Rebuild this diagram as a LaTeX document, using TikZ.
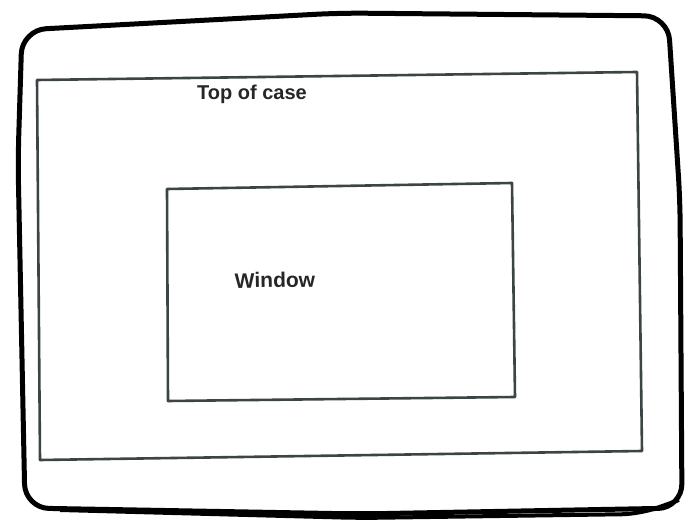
\documentclass[tikz,border=0pt]{standalone}
\usepackage{fontspec}
\setmainfont{Liberation Sans}
\definecolor{caseclr}{HTML}{3C4446}
\begin{document}
\begin{tikzpicture}[x=1pt,y=-1pt,
  frame/.style={draw=black,line width=5pt,rounded corners=24pt,line join=round},
  caseline/.style={draw=caseclr,line width=2.6pt,line join=round,line cap=round},
  hand/.style={text=black!85,font=\bfseries\fontsize{19}{19}\selectfont}]
\useasboundingbox (0,0) rectangle (694,529);
\fill[white] (0,0) rectangle (694,529);
% outer rough frame
\draw[frame] (18,160) -- (22,30) -- (340,13) -- (668,16) -- (680,200) -- (682,508) -- (360,514) -- (25,508) -- cycle;
\draw[black,line width=4pt,rounded corners=18pt] (60,510) -- (360,518) -- (640,514) -- (679,500);
% top of case
\draw[caseline] (37,80) -- (637,72) -- (642,451) -- (40,460) -- cycle;
% window
\draw[caseline] (167,189) -- (512,183) -- (515,397) -- (168,401) -- cycle;
\node[hand,font=\bfseries\fontsize{20}{20}\selectfont] (top) at (252,94) {Top of case};
\node[hand,font=\bfseries\fontsize{21}{21}\selectfont,rotate=1] (win) at (275,280) {Window};
\end{tikzpicture}
\end{document}
